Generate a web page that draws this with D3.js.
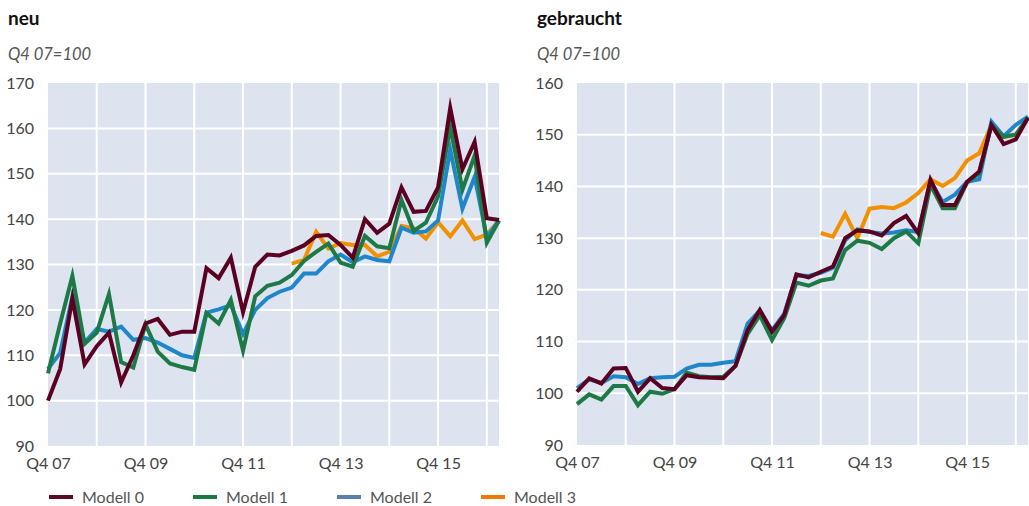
<!DOCTYPE html>
<html>
<head>
<meta charset="utf-8">
<script src="https://cdn.jsdelivr.net/npm/d3@7"></script>
<style>
  body { margin: 0; background: #fff; }
  svg { display: block; font-family: Lato, "Open Sans", sans-serif; }
</style>
</head>
<body>
<svg id="chart" width="1029" height="506"></svg>
<script>
// Quarterly index values, Q4 07 = 100 (Q4 07 … Q1 17)
const quarterLabels = ["Q4 07", "Q4 09", "Q4 11", "Q4 13", "Q4 15"];
const quarterTickIdx = [0, 8, 16, 24, 32];

const neuModell0 = [100, 107, 122.5, 108, 112, 115, 104, 110, 117, 118, 114.5, 115.2, 115.2, 129.2, 127, 131.5, 119.5, 129.5, 132.2, 132, 133, 134.2, 136.3, 136.5, 134.3, 131.5, 140, 137, 139, 147, 141.6, 141.8, 147, 164.5, 151, 157, 140.2, 139.8];
const neuModell1 = [106, 117, 127.5, 112.5, 115, 123.5, 108.5, 107.3, 116.8, 110.8, 108.2, 107.4, 106.8, 119.3, 117, 122.2, 111, 123, 125.3, 126, 127.7, 130.8, 132.8, 134.6, 130.4, 129.5, 136.3, 134, 133.6, 144.2, 137.4, 139.2, 145, 160.3, 146.5, 154, 134.8, 139.7];
const neuModell2 = [107, 110.5, 123, 112.8, 115.8, 115.2, 116.3, 113.4, 113.8, 112.8, 111.4, 110, 109.4, 119.4, 120.1, 121, 114.7, 120, 122.6, 124, 124.9, 128, 128, 130.7, 132.2, 130.5, 131.8, 131, 130.7, 138.1, 137, 137.3, 139.7, 155.3, 142.3, 149.3, 136, 139.7];
const neuModell3 = [null, null, null, null, null, null, null, null, null, null, null, null, null, null, null, null, null, null, null, null, 130.2, 131, 137.2, 133.5, 134.7, 134.3, 134.3, 131.8, 132.8, 138.5, 138, 135.7, 139.3, 136.2, 139.7, 135.6, 136.6, 139.7];

const gebrModell0 = [100.3, 102.9, 101.9, 104.8, 104.9, 100.3, 102.9, 101, 100.8, 103.5, 103.1, 103, 102.9, 105.3, 112.2, 116.1, 111.9, 115.1, 123, 122.4, 123.5, 124.5, 130, 131.5, 131.3, 130.5, 132.9, 134.3, 130.9, 141.3, 136.4, 136.4, 140.9, 142.9, 151.9, 148.2, 149.1, 153.3];
const gebrModell1 = [97.9, 99.8, 98.8, 101.4, 101.4, 97.7, 100.3, 99.9, 100.8, 104, 103.3, 103.1, 103.2, 105.3, 111.5, 115.1, 110.3, 114.5, 121.4, 120.8, 121.8, 122.2, 127.7, 129.5, 129.1, 127.9, 130, 131.3, 129, 140.3, 135.8, 135.8, 140.8, 142.6, 151.8, 149.6, 150, 153.3];
const gebrModell2 = [101, 102.7, 102, 103.3, 103.1, 101.8, 102.9, 103.1, 103.2, 104.8, 105.5, 105.5, 105.9, 106.2, 113.5, 116, 112.2, 115.4, 122.8, 122.7, 123.3, 124.3, 129.6, 131.7, 131.2, 130.9, 131.1, 131.5, 131.2, 141, 137, 138.4, 140.9, 141.4, 152.5, 149.7, 151.9, 153.5];
const gebrModell3 = [null, null, null, null, null, null, null, null, null, null, null, null, null, null, null, null, null, null, null, null, 131, 130.3, 134.7, 130, 135.7, 136, 135.8, 136.9, 138.7, 141.4, 140.1, 141.6, 145, 146.4, 151.9, 149.6, 150, 153.3];

const seriesNames = ["Modell 0", "Modell 1", "Modell 2", "Modell 3"];
const lineColors = ["#5c0022", "#1d7a46", "#1f87c9", "#f39000"];
const legendColors = ["#5c0a25", "#1a7a44", "#5a80ab", "#f07800"];

const svg = d3.select("#chart");
const nQ = neuModell0.length;

function panel(opts) {
  const g = svg.append("g");
  const x = d3.scaleLinear().domain([0, nQ - 1]).range([opts.x0, opts.x1]);
  const y = d3.scaleLinear().domain(opts.yDomain).range([opts.y1, opts.y0]);

  // titles
  g.append("text").attr("x", opts.tx).attr("y", 25)
    .attr("font-size", 19).attr("font-weight", 700).attr("fill", "#111")
    .text(opts.title);
  g.append("text").attr("x", opts.tx).attr("y", 60)
    .attr("font-size", 16.5).attr("font-style", "italic").attr("fill", "#555")
    .text("Q4 07=100");

  // plot background
  g.append("rect").attr("x", opts.x0).attr("y", opts.y0)
    .attr("width", opts.x1 - opts.x0).attr("height", opts.y1 - opts.y0)
    .attr("fill", "#dde3ef");

  // horizontal grid
  const yTicks = d3.range(opts.yDomain[0], opts.yDomain[1] + 1, 10);
  g.selectAll(".hg").data(yTicks.slice(1, -1)).join("line")
    .attr("x1", opts.x0).attr("x2", opts.x1)
    .attr("y1", d => y(d)).attr("y2", d => y(d))
    .attr("stroke", "#fff").attr("stroke-width", 2);

  // vertical grid at each Q4
  g.selectAll(".vg").data(d3.range(4, nQ, 4)).join("line")
    .attr("x1", d => x(d)).attr("x2", d => x(d))
    .attr("y1", opts.y0).attr("y2", opts.y1)
    .attr("stroke", "#fff").attr("stroke-width", 2);

  // y axis labels
  const yAxis = d3.axisLeft(y).tickValues(yTicks).tickSize(0).tickPadding(0);
  const ya = g.append("g").attr("transform", `translate(${opts.yLabelX},0)`).call(yAxis);
  ya.select(".domain").remove();
  ya.selectAll("text").attr("font-size", 16).attr("fill", "#444")
    .attr("font-family", "Lato, 'Open Sans', sans-serif");

  // x axis labels
  const xAxis = d3.axisBottom(x).tickValues(quarterTickIdx)
    .tickFormat((d, i) => quarterLabels[i]).tickSize(0).tickPadding(0);
  const xa = g.append("g").attr("transform", `translate(0,${opts.y1 + 12})`).call(xAxis);
  xa.select(".domain").remove();
  xa.selectAll("text").attr("font-size", 16).attr("fill", "#444")
    .attr("font-family", "Lato, 'Open Sans', sans-serif");

  const line = d3.line()
    .defined(d => d != null)
    .x((d, i) => x(i))
    .y(d => y(d));

  // draw orange first so the dark line sits on top
  [3, 2, 1, 0].forEach(k => {
    g.append("path").datum(opts.series[k])
      .attr("d", line)
      .attr("fill", "none")
      .attr("stroke", lineColors[k])
      .attr("stroke-width", 4)
      .attr("stroke-linejoin", "miter")
      .attr("stroke-miterlimit", 10);
  });
}

panel({
  title: "neu", tx: 8, x0: 48, x1: 499, y0: 83, y1: 446,
  yDomain: [90, 170], yLabelX: 34,
  series: [neuModell0, neuModell1, neuModell2, neuModell3]
});

panel({
  title: "gebraucht", tx: 537, x0: 577, x1: 1028, y0: 83, y1: 445,
  yDomain: [90, 160], yLabelX: 563,
  series: [gebrModell0, gebrModell1, gebrModell2, gebrModell3]
});

// legend
const leg = svg.append("g").attr("transform", "translate(49,497)");
const item = leg.selectAll("g").data(seriesNames).join("g")
  .attr("transform", (d, i) => `translate(${i * 144},0)`);
item.append("line").attr("x1", 0).attr("x2", 24).attr("y1", 0).attr("y2", 0)
  .attr("stroke", (d, i) => legendColors[i]).attr("stroke-width", 4);
item.append("text").attr("x", 33).attr("y", 6)
  .attr("font-size", 16).attr("fill", "#555").text(d => d);
</script>
</body>
</html>
